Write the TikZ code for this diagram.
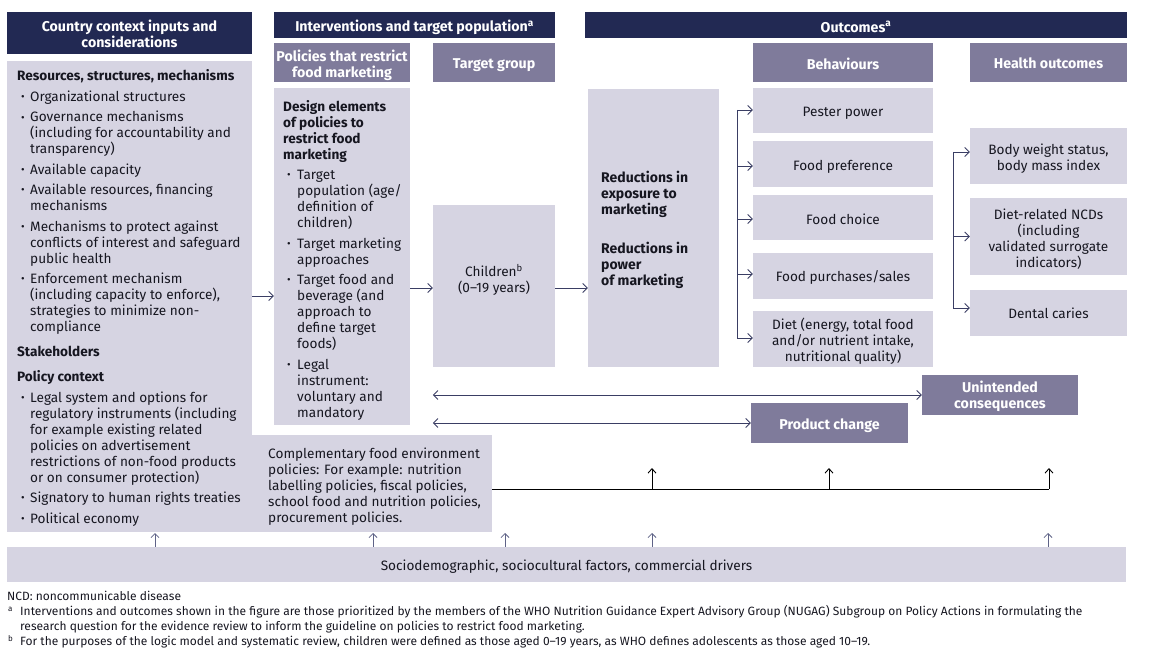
\documentclass[tikz,border=0pt]{standalone}
\usepackage{fontspec}
\setmainfont{Fira Sans}
\usetikzlibrary{arrows.meta,fit}
\definecolor{navy}{RGB}{34,41,83}
\definecolor{midc}{RGB}{127,123,155}
\definecolor{lightc}{RGB}{214,212,226}
\definecolor{arrc}{RGB}{58,62,100}
\definecolor{uparc}{RGB}{95,99,135}
\definecolor{txtc}{RGB}{22,22,32}
\newcommand\mybx[6]{\node[#6, fit={(#2,#3) (#4,#5)}] (#1) {};}
\newcommand\bl{\makebox[13pt][l]{\hspace{4pt}\raisebox{0.5pt}{\fontsize{11}{11}\selectfont\textbullet}}}
\newcommand\ind{\makebox[13pt]{}}
\newcommand\blb{\makebox[14pt][l]{\hspace{4pt}\raisebox{0.5pt}{\fontsize{11}{11}\selectfont\textbullet}}}
\newcommand\indb{\makebox[14pt]{}}
\begin{document}
\begin{tikzpicture}[x=1pt,y=-1pt,
  navybox/.style={fill=navy, inner sep=0pt},
  midbox/.style={fill=midc, inner sep=0pt},
  lightbox/.style={fill=lightc, inner sep=0pt},
  dn/.style={yshift=-#1pt},
  htxt/.style={inner sep=0pt, align=center, text=white, font=\fontsize{14.2}{16}\selectfont\bfseries},
  ctxt/.style={inner sep=0pt, align=center, text=txtc, font=\fontsize{13.6}{16}\selectfont},
  ltxt/.style={inner sep=0pt, align=left, text=txtc, font=\fontsize{13.6}{16}\selectfont, anchor=north west},
  fntxt/.style={inner sep=0pt, align=left, text=txtc, font=\fontsize{12}{15}\selectfont, anchor=north west},
  arr/.style={draw=arrc, line width=0.9pt, -{Straight Barb[length=4.5pt,width=9pt]}},
  barr/.style={draw=arrc, line width=0.9pt, {Straight Barb[length=4.5pt,width=9pt]}-{Straight Barb[length=4.5pt,width=9pt]}},
  lne/.style={draw=arrc, line width=0.9pt},
  blk/.style={draw=black, line width=0.9pt},
  blkarr/.style={draw=black, line width=0.9pt, -{Straight Barb[length=4.5pt,width=8pt]}},
  uparr/.style={draw=uparc, line width=0.8pt, -{Straight Barb[length=4pt,width=8pt]}}
]
\useasboundingbox (0,0) rectangle (1162,652);

% headers
\mybx{h1}{7}{12}{252}{54}{navybox}
\mybx{h2}{274}{12}{555}{38}{navybox}
\mybx{h3}{585}{12}{1127}{38}{navybox}
\node[htxt, dn=1] at (h1.center) {Country context inputs and\\considerations};
\node[htxt, dn=2.5] at (h2.center) {Interventions and target population\textsuperscript{a}};
\node[htxt, dn=2] at (h3.center) {Outcomes\textsuperscript{a}};

% sub headers
\mybx{polh}{274}{43}{410}{82}{midbox}
\mybx{tgh}{433}{43}{555}{82}{midbox}
\mybx{bh}{753}{43}{933}{82}{midbox}
\mybx{hoh}{970}{43}{1127}{82}{midbox}
\node[htxt, dn=3] at (polh.center) {Policies that restrict\\food marketing};
\node[htxt, dn=2.5] at (tgh.center) {Target group};
\node[htxt, dn=1] at (bh.center) {Behaviours};
\node[htxt, dn=1] at (hoh.center) {Health outcomes};

% light boxes
\mybx{ctx}{7}{61}{252}{532}{lightbox}
\mybx{comp}{252}{435}{492}{532}{lightbox}
\mybx{pol}{274}{88}{410}{425}{lightbox}
\mybx{child}{433}{205}{555}{367}{lightbox}
\mybx{red}{588}{89}{719}{367}{lightbox}
\mybx{pester}{753}{88}{933}{133}{lightbox}
\mybx{pref}{753}{141}{933}{187}{lightbox}
\mybx{choice}{753}{195}{933}{240}{lightbox}
\mybx{purch}{753}{253}{933}{299}{lightbox}
\mybx{diet}{753}{311}{933}{367}{lightbox}
\mybx{body}{970}{128}{1127}{184}{lightbox}
\mybx{ncd}{970}{198}{1127}{275}{lightbox}
\mybx{dental}{970}{290}{1127}{336}{lightbox}
\mybx{unint}{922}{375}{1078}{415}{midbox}
\mybx{prod}{751}{403}{908}{443}{midbox}
\mybx{socio}{7}{547}{1126}{582}{lightbox}

% texts
\node[ltxt] at (17,69) {%
\textbf{Resources, structures, mechanisms}\\[5pt]
\bl Organizational structures\\[4.5pt]
\bl Governance mechanisms\\
\ind (including for accountability and\\
\ind transparency)\\[4.5pt]
\bl Available capacity\\[4pt]
\bl Available resources, financing\\
\ind mechanisms\\[5pt]
\bl Mechanisms to protect against\\
\ind conflicts of interest and safeguard\\
\ind public health\\[4pt]
\bl Enforcement mechanism\\
\ind (including capacity to enforce),\\
\ind strategies to minimize non-\\
\ind compliance\\[9pt]
\textbf{Stakeholders}\\[9pt]
\textbf{Policy context}\\[5pt]
\bl Legal system and options for\\
\ind regulatory instruments (including\\
\ind for example existing related\\
\ind policies on advertisement\\
\ind restrictions of non-food products\\
\ind or on consumer protection)\\[4pt]
\bl Signatory to human rights treaties\\[5pt]
\bl Political economy};

\node[ltxt] at (283,100) {%
\textbf{Design elements}\\
\textbf{of policies to}\\
\textbf{restrict food}\\
\textbf{marketing}\\[4pt]
\blb Target\\
\indb population (age/\\
\indb definition of\\
\indb children)\\[5pt]
\blb Target marketing\\
\indb approaches\\[4pt]
\blb Target food and\\
\indb beverage (and\\
\indb approach to\\
\indb define target\\
\indb foods)\\[5pt]
\blb Legal\\
\indb instrument:\\
\indb voluntary and\\
\indb mandatory};

\node[ctxt, dn=1] at (494,279) {Children\textsuperscript{b}\\(0--19 years)};

\node[ltxt, font=\fontsize{14}{16}\selectfont\bfseries] at (601,171) {%
Reductions in\\
exposure to\\
marketing\\[23pt]
Reductions in\\
power\\
of marketing};

\node[ctxt, dn=2.5] at (pester.center) {Pester power};
\node[ctxt, dn=2.5] at (pref.center) {Food preference};
\node[ctxt, dn=2] at (choice.center) {Food choice};
\node[ctxt, dn=1.5] at (purch.center) {Food purchases/sales};
\node[ctxt, dn=2] at (diet.center) {Diet (energy, total food\\and/or nutrient intake,\\nutritional quality)};
\node[ctxt, dn=2.5] at (body.center) {Body weight status,\\body mass index};
\node[ctxt, dn=2.5] at (ncd.center) {Diet-related NCDs\\(including\\validated surrogate\\indicators)};
\node[ctxt, dn=0.5] at (dental.center) {Dental caries};
\node[htxt, dn=1.5] at (unint.center) {Unintended\\consequences};
\node[htxt, dn=2.5] at (prod.center) {Product change};

\node[ltxt] at (268,448) {%
Complementary food environment\\
policies: For example: nutrition\\
labelling policies, fiscal policies,\\
school food and nutrition policies,\\
procurement policies.};

\node[ctxt, dn=2] at (socio.center) {Sociodemographic, sociocultural factors, commercial drivers};

\node[fntxt] at (7,591) {%
NCD: noncommunicable disease\\
\makebox[13pt][l]{\hspace{1pt}\textsuperscript{a}}Interventions and outcomes shown in the figure are those prioritized by the members of the WHO Nutrition Guidance Expert Advisory Group (NUGAG) Subgroup on Policy Actions in formulating the\\
\makebox[13pt]{}research question for the evidence review to inform the guideline on policies to restrict food marketing.\\
\makebox[13pt][l]{\hspace{1pt}\textsuperscript{b}}For the purposes of the logic model and systematic review, children were defined as those aged 0--19 years, as WHO defines adolescents as those aged 10--19.};

% connectors
\draw[arr] (ctx.east |- 0,296) -- (pol.west |- 0,296);
\draw[arr] (pol.east |- 0,288) -- (child.west |- 0,288);
\draw[arr] (child.east |- 0,288) -- (red.west |- 0,288);

\coordinate (bt) at (737,110);
\coordinate (bb) at (737,338);
\draw[lne] (bt) -- (bb);
\draw[arr] (bt) -- (pester.west |- bt);
\draw[arr] (bt |- 0,166) -- (pref.west |- 0,166);
\draw[arr] (bt |- 0,219) -- (choice.west |- 0,219);
\draw[arr] (bt |- 0,274) -- (purch.west |- 0,274);
\draw[arr] (bb) -- (diet.west |- bb);

\coordinate (ht) at (953,152);
\coordinate (hb) at (953,308);
\draw[lne] (ht) -- (hb);
\draw[arr] (ht) -- (body.west |- ht);
\draw[arr] (ht |- ncd.west) -- (ncd.west);
\draw[arr] (hb) -- (dental.west |- hb);

\draw[barr] (child.west |- unint.west) -- (unint.west);
\draw[barr] (child.west |- prod.west) -- (prod.west);

\coordinate (cr) at (1049,489);
\draw[blk] (comp.east |- cr) -- (cr);
\draw[blkarr] (cr) -- (1049,468);
\draw[blkarr] (652,489) -- (652,468);
\draw[blkarr] (829,489) -- (829,468);

\foreach \xx in {155,373,505,652,1048}
  \draw[uparr] (socio.north -| \xx,0) -- (\xx,533);
\end{tikzpicture}
\end{document}
